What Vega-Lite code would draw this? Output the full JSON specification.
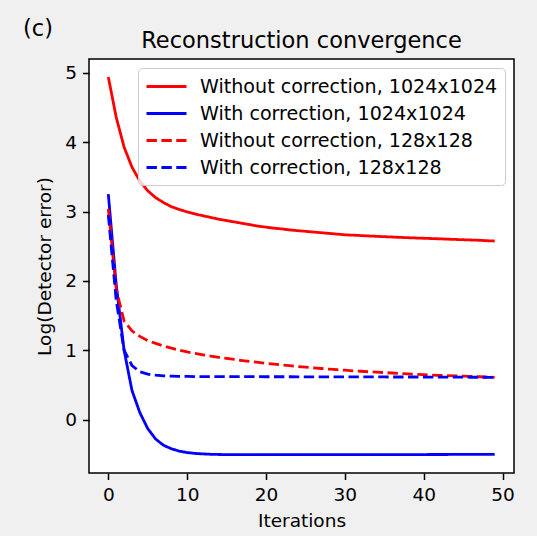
{
  "$schema": "https://vega.github.io/schema/vega-lite/v6.json",
  "background": "#f0f0f0",
  "padding": {"left": 22, "top": 17, "right": 23, "bottom": 5},
  "title": {"text": "(c)", "anchor": "start", "frame": "bounds", "fontSize": 22.5, "font": "DejaVu Sans", "fontWeight": "normal", "color": "#000000", "baseline": "alphabetic", "offset": -12, "dx": -12, "dy": 17},
  "config": {
    "font": "DejaVu Sans",
    "view": {"stroke": "#000000", "strokeWidth": 1.5, "fill": "#ffffff"},
    "axis": {"grid": false, "domain": false, "tickColor": "#000000", "tickSize": 6.5, "tickWidth": 1.5, "labelFontSize": 18.5, "labelFont": "DejaVu Sans", "labelColor": "#000000", "labelPadding": 6, "titleFont": "DejaVu Sans", "titleFontSize": 18.5, "titleFontWeight": "normal", "titleColor": "#000000", "titlePadding": 7},
    "axisY": {"titlePadding": 10}
  },
  "vconcat": [
    {
      "width": 425,
      "height": 414,
      "title": {"text": "Reconstruction convergence", "anchor": "middle", "fontSize": 22.5, "font": "DejaVu Sans", "fontWeight": "normal", "color": "#000000", "baseline": "alphabetic", "offset": -11.5},
      "data": {"values": [
{"i":0,"v":4.94,"s":"Without correction, 1024x1024"},{"i":1,"v":4.36,"s":"Without correction, 1024x1024"},{"i":2,"v":3.93,"s":"Without correction, 1024x1024"},{"i":3,"v":3.64,"s":"Without correction, 1024x1024"},{"i":4,"v":3.44,"s":"Without correction, 1024x1024"},{"i":5,"v":3.30,"s":"Without correction, 1024x1024"},{"i":6,"v":3.20,"s":"Without correction, 1024x1024"},{"i":7,"v":3.13,"s":"Without correction, 1024x1024"},{"i":8,"v":3.07,"s":"Without correction, 1024x1024"},{"i":9,"v":3.03,"s":"Without correction, 1024x1024"},
{"i":10,"v":2.995,"s":"Without correction, 1024x1024"},{"i":11,"v":2.965,"s":"Without correction, 1024x1024"},{"i":12,"v":2.94,"s":"Without correction, 1024x1024"},{"i":13,"v":2.915,"s":"Without correction, 1024x1024"},{"i":14,"v":2.89,"s":"Without correction, 1024x1024"},{"i":15,"v":2.87,"s":"Without correction, 1024x1024"},{"i":16,"v":2.85,"s":"Without correction, 1024x1024"},{"i":17,"v":2.83,"s":"Without correction, 1024x1024"},{"i":18,"v":2.81,"s":"Without correction, 1024x1024"},{"i":19,"v":2.79,"s":"Without correction, 1024x1024"},
{"i":20,"v":2.775,"s":"Without correction, 1024x1024"},{"i":21,"v":2.76,"s":"Without correction, 1024x1024"},{"i":22,"v":2.75,"s":"Without correction, 1024x1024"},{"i":23,"v":2.735,"s":"Without correction, 1024x1024"},{"i":24,"v":2.725,"s":"Without correction, 1024x1024"},{"i":25,"v":2.715,"s":"Without correction, 1024x1024"},{"i":26,"v":2.705,"s":"Without correction, 1024x1024"},{"i":27,"v":2.695,"s":"Without correction, 1024x1024"},{"i":28,"v":2.685,"s":"Without correction, 1024x1024"},{"i":29,"v":2.675,"s":"Without correction, 1024x1024"},
{"i":30,"v":2.665,"s":"Without correction, 1024x1024"},{"i":31,"v":2.66,"s":"Without correction, 1024x1024"},{"i":32,"v":2.654,"s":"Without correction, 1024x1024"},{"i":33,"v":2.648,"s":"Without correction, 1024x1024"},{"i":34,"v":2.643,"s":"Without correction, 1024x1024"},{"i":35,"v":2.638,"s":"Without correction, 1024x1024"},{"i":36,"v":2.633,"s":"Without correction, 1024x1024"},{"i":37,"v":2.628,"s":"Without correction, 1024x1024"},{"i":38,"v":2.623,"s":"Without correction, 1024x1024"},{"i":39,"v":2.619,"s":"Without correction, 1024x1024"},
{"i":40,"v":2.615,"s":"Without correction, 1024x1024"},{"i":41,"v":2.611,"s":"Without correction, 1024x1024"},{"i":42,"v":2.607,"s":"Without correction, 1024x1024"},{"i":43,"v":2.602,"s":"Without correction, 1024x1024"},{"i":44,"v":2.598,"s":"Without correction, 1024x1024"},{"i":45,"v":2.594,"s":"Without correction, 1024x1024"},{"i":46,"v":2.59,"s":"Without correction, 1024x1024"},{"i":47,"v":2.586,"s":"Without correction, 1024x1024"},{"i":48,"v":2.58,"s":"Without correction, 1024x1024"},{"i":49,"v":2.575,"s":"Without correction, 1024x1024"},
{"i":0,"v":3.25,"s":"With correction, 1024x1024"},{"i":1,"v":1.95,"s":"With correction, 1024x1024"},{"i":2,"v":1.0,"s":"With correction, 1024x1024"},{"i":3,"v":0.42,"s":"With correction, 1024x1024"},{"i":4,"v":0.1,"s":"With correction, 1024x1024"},{"i":5,"v":-0.13,"s":"With correction, 1024x1024"},{"i":6,"v":-0.28,"s":"With correction, 1024x1024"},{"i":7,"v":-0.37,"s":"With correction, 1024x1024"},{"i":8,"v":-0.42,"s":"With correction, 1024x1024"},{"i":9,"v":-0.455,"s":"With correction, 1024x1024"},
{"i":10,"v":-0.475,"s":"With correction, 1024x1024"},{"i":11,"v":-0.488,"s":"With correction, 1024x1024"},{"i":12,"v":-0.495,"s":"With correction, 1024x1024"},{"i":13,"v":-0.5,"s":"With correction, 1024x1024"},{"i":14,"v":-0.503,"s":"With correction, 1024x1024"},{"i":15,"v":-0.505,"s":"With correction, 1024x1024"},{"i":16,"v":-0.505,"s":"With correction, 1024x1024"},{"i":17,"v":-0.506,"s":"With correction, 1024x1024"},{"i":18,"v":-0.506,"s":"With correction, 1024x1024"},{"i":19,"v":-0.506,"s":"With correction, 1024x1024"},
{"i":20,"v":-0.506,"s":"With correction, 1024x1024"},{"i":21,"v":-0.506,"s":"With correction, 1024x1024"},{"i":22,"v":-0.506,"s":"With correction, 1024x1024"},{"i":23,"v":-0.506,"s":"With correction, 1024x1024"},{"i":24,"v":-0.506,"s":"With correction, 1024x1024"},{"i":25,"v":-0.506,"s":"With correction, 1024x1024"},{"i":26,"v":-0.506,"s":"With correction, 1024x1024"},{"i":27,"v":-0.506,"s":"With correction, 1024x1024"},{"i":28,"v":-0.506,"s":"With correction, 1024x1024"},{"i":29,"v":-0.506,"s":"With correction, 1024x1024"},
{"i":30,"v":-0.506,"s":"With correction, 1024x1024"},{"i":31,"v":-0.506,"s":"With correction, 1024x1024"},{"i":32,"v":-0.506,"s":"With correction, 1024x1024"},{"i":33,"v":-0.505,"s":"With correction, 1024x1024"},{"i":34,"v":-0.505,"s":"With correction, 1024x1024"},{"i":35,"v":-0.505,"s":"With correction, 1024x1024"},{"i":36,"v":-0.505,"s":"With correction, 1024x1024"},{"i":37,"v":-0.505,"s":"With correction, 1024x1024"},{"i":38,"v":-0.504,"s":"With correction, 1024x1024"},{"i":39,"v":-0.504,"s":"With correction, 1024x1024"},
{"i":40,"v":-0.504,"s":"With correction, 1024x1024"},{"i":41,"v":-0.503,"s":"With correction, 1024x1024"},{"i":42,"v":-0.503,"s":"With correction, 1024x1024"},{"i":43,"v":-0.503,"s":"With correction, 1024x1024"},{"i":44,"v":-0.502,"s":"With correction, 1024x1024"},{"i":45,"v":-0.502,"s":"With correction, 1024x1024"},{"i":46,"v":-0.501,"s":"With correction, 1024x1024"},{"i":47,"v":-0.501,"s":"With correction, 1024x1024"},{"i":48,"v":-0.5,"s":"With correction, 1024x1024"},{"i":49,"v":-0.5,"s":"With correction, 1024x1024"},
{"i":0,"v":3.04,"s":"Without correction, 128x128"},{"i":1,"v":1.88,"s":"Without correction, 128x128"},{"i":2,"v":1.42,"s":"Without correction, 128x128"},{"i":3,"v":1.28,"s":"Without correction, 128x128"},{"i":4,"v":1.2,"s":"Without correction, 128x128"},{"i":5,"v":1.14,"s":"Without correction, 128x128"},{"i":6,"v":1.1,"s":"Without correction, 128x128"},{"i":7,"v":1.06,"s":"Without correction, 128x128"},{"i":8,"v":1.03,"s":"Without correction, 128x128"},{"i":9,"v":1.0,"s":"Without correction, 128x128"},
{"i":10,"v":0.975,"s":"Without correction, 128x128"},{"i":11,"v":0.955,"s":"Without correction, 128x128"},{"i":12,"v":0.935,"s":"Without correction, 128x128"},{"i":13,"v":0.915,"s":"Without correction, 128x128"},{"i":14,"v":0.898,"s":"Without correction, 128x128"},{"i":15,"v":0.882,"s":"Without correction, 128x128"},{"i":16,"v":0.867,"s":"Without correction, 128x128"},{"i":17,"v":0.852,"s":"Without correction, 128x128"},{"i":18,"v":0.838,"s":"Without correction, 128x128"},{"i":19,"v":0.825,"s":"Without correction, 128x128"},
{"i":20,"v":0.812,"s":"Without correction, 128x128"},{"i":21,"v":0.8,"s":"Without correction, 128x128"},{"i":22,"v":0.788,"s":"Without correction, 128x128"},{"i":23,"v":0.777,"s":"Without correction, 128x128"},{"i":24,"v":0.766,"s":"Without correction, 128x128"},{"i":25,"v":0.756,"s":"Without correction, 128x128"},{"i":26,"v":0.746,"s":"Without correction, 128x128"},{"i":27,"v":0.737,"s":"Without correction, 128x128"},{"i":28,"v":0.728,"s":"Without correction, 128x128"},{"i":29,"v":0.72,"s":"Without correction, 128x128"},
{"i":30,"v":0.712,"s":"Without correction, 128x128"},{"i":31,"v":0.704,"s":"Without correction, 128x128"},{"i":32,"v":0.697,"s":"Without correction, 128x128"},{"i":33,"v":0.69,"s":"Without correction, 128x128"},{"i":34,"v":0.684,"s":"Without correction, 128x128"},{"i":35,"v":0.678,"s":"Without correction, 128x128"},{"i":36,"v":0.672,"s":"Without correction, 128x128"},{"i":37,"v":0.666,"s":"Without correction, 128x128"},{"i":38,"v":0.66,"s":"Without correction, 128x128"},{"i":39,"v":0.654,"s":"Without correction, 128x128"},
{"i":40,"v":0.648,"s":"Without correction, 128x128"},{"i":41,"v":0.643,"s":"Without correction, 128x128"},{"i":42,"v":0.638,"s":"Without correction, 128x128"},{"i":43,"v":0.634,"s":"Without correction, 128x128"},{"i":44,"v":0.63,"s":"Without correction, 128x128"},{"i":45,"v":0.626,"s":"Without correction, 128x128"},{"i":46,"v":0.622,"s":"Without correction, 128x128"},{"i":47,"v":0.618,"s":"Without correction, 128x128"},{"i":48,"v":0.614,"s":"Without correction, 128x128"},{"i":49,"v":0.61,"s":"Without correction, 128x128"},
{"i":0,"v":2.95,"s":"With correction, 128x128"},{"i":1,"v":1.72,"s":"With correction, 128x128"},{"i":2,"v":1.0,"s":"With correction, 128x128"},{"i":3,"v":0.78,"s":"With correction, 128x128"},{"i":4,"v":0.69,"s":"With correction, 128x128"},{"i":5,"v":0.655,"s":"With correction, 128x128"},{"i":6,"v":0.64,"s":"With correction, 128x128"},{"i":7,"v":0.632,"s":"With correction, 128x128"},{"i":8,"v":0.627,"s":"With correction, 128x128"},{"i":9,"v":0.624,"s":"With correction, 128x128"},
{"i":10,"v":0.622,"s":"With correction, 128x128"},{"i":11,"v":0.621,"s":"With correction, 128x128"},{"i":12,"v":0.62,"s":"With correction, 128x128"},{"i":13,"v":0.62,"s":"With correction, 128x128"},{"i":14,"v":0.62,"s":"With correction, 128x128"},{"i":15,"v":0.62,"s":"With correction, 128x128"},{"i":16,"v":0.619,"s":"With correction, 128x128"},{"i":17,"v":0.619,"s":"With correction, 128x128"},{"i":18,"v":0.619,"s":"With correction, 128x128"},{"i":19,"v":0.619,"s":"With correction, 128x128"},
{"i":20,"v":0.618,"s":"With correction, 128x128"},{"i":21,"v":0.618,"s":"With correction, 128x128"},{"i":22,"v":0.618,"s":"With correction, 128x128"},{"i":23,"v":0.618,"s":"With correction, 128x128"},{"i":24,"v":0.617,"s":"With correction, 128x128"},{"i":25,"v":0.617,"s":"With correction, 128x128"},{"i":26,"v":0.617,"s":"With correction, 128x128"},{"i":27,"v":0.617,"s":"With correction, 128x128"},{"i":28,"v":0.616,"s":"With correction, 128x128"},{"i":29,"v":0.616,"s":"With correction, 128x128"},
{"i":30,"v":0.616,"s":"With correction, 128x128"},{"i":31,"v":0.616,"s":"With correction, 128x128"},{"i":32,"v":0.615,"s":"With correction, 128x128"},{"i":33,"v":0.615,"s":"With correction, 128x128"},{"i":34,"v":0.615,"s":"With correction, 128x128"},{"i":35,"v":0.615,"s":"With correction, 128x128"},{"i":36,"v":0.614,"s":"With correction, 128x128"},{"i":37,"v":0.614,"s":"With correction, 128x128"},{"i":38,"v":0.614,"s":"With correction, 128x128"},{"i":39,"v":0.614,"s":"With correction, 128x128"},
{"i":40,"v":0.613,"s":"With correction, 128x128"},{"i":41,"v":0.613,"s":"With correction, 128x128"},{"i":42,"v":0.613,"s":"With correction, 128x128"},{"i":43,"v":0.612,"s":"With correction, 128x128"},{"i":44,"v":0.612,"s":"With correction, 128x128"},{"i":45,"v":0.612,"s":"With correction, 128x128"},{"i":46,"v":0.611,"s":"With correction, 128x128"},{"i":47,"v":0.611,"s":"With correction, 128x128"},{"i":48,"v":0.61,"s":"With correction, 128x128"},{"i":49,"v":0.61,"s":"With correction, 128x128"}
      ]},
      "mark": {"type": "line", "strokeWidth": 2.8, "clip": true},
      "encoding": {
        "x": {"field": "i", "type": "quantitative", "title": "Iterations", "scale": {"domain": [-2.45, 51.45], "nice": false, "zero": false}, "axis": {"values": [0, 10, 20, 30, 40, 50], "format": "d"}},
        "y": {"field": "v", "type": "quantitative", "title": "Log(Detector error)", "scale": {"domain": [-0.77, 5.2], "nice": false, "zero": false}, "axis": {"values": [0, 1, 2, 3, 4, 5], "format": "d"}},
        "color": {"field": "s", "type": "nominal", "title": null,
          "scale": {"domain": ["Without correction, 1024x1024", "With correction, 1024x1024", "Without correction, 128x128", "With correction, 128x128"], "range": ["#ff0000", "#0000ff", "#ff0000", "#0000ff"]},
          "legend": {"orient": "top-right", "offset": 9, "fillColor": "rgba(255,255,255,0.8)", "strokeColor": "#cccccc", "cornerRadius": 4, "padding": 7, "labelFontSize": 19.1, "labelFont": "DejaVu Sans", "labelColor": "#000000", "symbolType": "M-1,0H3", "symbolSize": 400, "symbolStrokeWidth": 2.8, "labelOffset": 32, "rowPadding": 5, "labelLimit": 400}},
        "strokeDash": {"field": "s", "type": "nominal", "title": null,
          "scale": {"domain": ["Without correction, 1024x1024", "With correction, 1024x1024", "Without correction, 128x128", "With correction, 128x128"], "range": [[1, 0], [1, 0], [10.4, 4.5], [10.4, 4.5]]}}
      }
    }
  ]
}
